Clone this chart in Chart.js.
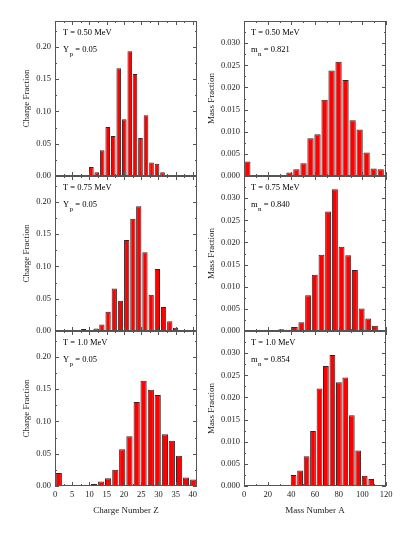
<!DOCTYPE html>
<html>
<head>
<meta charset="utf-8">
<script src="https://cdn.jsdelivr.net/npm/chart.js@4"></script>
<style>
  body { margin: 0; background: #fff; width: 415px; height: 536px; position: relative; overflow: hidden; }
  canvas { position: absolute; }
</style>
</head>
<body>
<canvas id="p1"></canvas>
<canvas id="p2"></canvas>
<canvas id="p3"></canvas>
<canvas id="p4"></canvas>
<canvas id="p5"></canvas>
<canvas id="p6"></canvas>
<script>
// charge distributions (left column)
const zT050 = [7.4, 9.0, 10.55, 12.1, 13.7, 15.3, 16.9, 18.5, 20.1, 21.7, 23.2, 24.8, 26.4, 28.0, 29.6, 31.2];
const cfT050 = [0.001, 0.001, 0.014, 0.006, 0.040, 0.076, 0.062, 0.167, 0.088, 0.193, 0.158, 0.059, 0.094, 0.021, 0.019, 0.006];
const zT075 = [8.3, 10.1, 11.9, 13.6, 15.4, 17.2, 19.0, 20.8, 22.6, 24.3, 26.1, 27.9, 29.7, 31.5, 33.3, 35.0];
const cfT075 = [0.003, 0, 0.004, 0.010, 0.030, 0.066, 0.047, 0.141, 0.174, 0.193, 0.122, 0.056, 0.096, 0.037, 0.015, 0.005];
const zT100 = [1.1, 3.1, 5.2, 7.2, 9.3, 11.3, 13.4, 15.4, 17.5, 19.5, 21.6, 23.7, 25.7, 27.8, 29.8, 31.9, 33.9, 36.0, 38.0, 40.1];
const cfT100 = [0.020, 0.001, 0, 0, 0.002, 0.003, 0.007, 0.012, 0.025, 0.057, 0.077, 0.130, 0.163, 0.149, 0.141, 0.080, 0.070, 0.047, 0.013, 0.010];

// mass distributions (right column)
const aT050 = [2.8, 8.8, 14.7, 20.6, 26.6, 32.5, 38.4, 44.3, 50.3, 56.2, 62.1, 68.1, 74.0, 79.9, 85.8, 91.8, 97.7, 103.6, 109.5, 115.5];
const mfT050 = [0.0033, 0.0002, 0, 0, 0.0001, 0.0002, 0.0008, 0.0015, 0.0029, 0.0085, 0.0094, 0.0172, 0.0238, 0.0258, 0.0217, 0.0126, 0.0105, 0.0053, 0.0017, 0.0015];
const aT075 = [25.9, 31.6, 37.2, 42.9, 48.5, 54.2, 59.8, 65.5, 71.1, 76.8, 82.4, 88.1, 93.7, 99.4, 105.0, 110.6];
const mfT075 = [0.0001, 0.0004, 0.0003, 0.0009, 0.0020, 0.0081, 0.0127, 0.0172, 0.0270, 0.0320, 0.0190, 0.0171, 0.0138, 0.0051, 0.0028, 0.0012];
const aT100 = [31.0, 36.5, 41.9, 47.4, 52.9, 58.3, 63.8, 69.2, 74.7, 80.2, 85.6, 91.1, 96.5, 102.0, 107.5];
const mfT100 = [0.0001, 0.0002, 0.0025, 0.0035, 0.0067, 0.0124, 0.0220, 0.0271, 0.0296, 0.0234, 0.0245, 0.0160, 0.0080, 0.0023, 0.0016];

// tick labels
const zTicks = [0, 5, 10, 15, 20, 25, 30, 35, 40];
const aTicks = [0, 20, 40, 60, 80, 100, 120];
const chargeTicks = [0, 0.05, 0.10, 0.15, 0.20];
const massTicks = [0, 0.005, 0.010, 0.015, 0.020, 0.025, 0.030];

const SERIF = "'Liberation Serif', 'Times New Roman', serif";

// box around the plot with inward ticks on all four sides
const frame = {
  id: 'frame',
  afterDatasetsDraw(chart, args, o) {
    const { ctx, chartArea: a, scales: { x, y } } = chart;
    ctx.save();
    ctx.strokeStyle = '#555';
    ctx.lineWidth = 1;
    ctx.beginPath();
    const step = (s, minor, major, horiz) => {
      for (let v = s.min; v <= s.max + 1e-9; v += minor) {
        const isMaj = Math.abs(v / major - Math.round(v / major)) < 1e-6;
        const len = isMaj ? 4 : 2;
        const p = Math.round(s.getPixelForValue(v)) + 0.5;
        if (horiz) {
          ctx.moveTo(p, a.bottom); ctx.lineTo(p, a.bottom - len);
          ctx.moveTo(p, a.top); ctx.lineTo(p, a.top + len);
        } else {
          ctx.moveTo(a.left, p); ctx.lineTo(a.left + len, p);
          ctx.moveTo(a.right, p); ctx.lineTo(a.right - len, p);
        }
      }
    };
    step(x, o.xMinor, o.xMajor, true);
    step(y, o.yMinor, o.yMajor, false);
    ctx.stroke();
    ctx.strokeRect(Math.round(a.left) + 0.5, Math.round(a.top) + 0.5,
      Math.round(a.right - a.left) - 1, Math.round(a.bottom - a.top) - 1);
    ctx.restore();
  }
};

// "T = ..." and "Y_p = ..." labels in the upper left corner
const notes = {
  id: 'notes',
  afterDraw(chart, args, o) {
    const { ctx, chartArea: a } = chart;
    ctx.save();
    ctx.fillStyle = '#000';
    ctx.textBaseline = 'middle';
    ctx.font = '8.5px ' + SERIF;
    const x0 = a.left + o.dx;
    ctx.fillText(o.temp, x0, a.top + 12);
    const y2 = a.top + 29;
    ctx.fillText(o.sym, x0, y2);
    let w = ctx.measureText(o.sym).width + 0.5;
    ctx.font = '7px ' + SERIF;
    ctx.fillText(o.sub, x0 + w, y2 + 4);
    w += ctx.measureText(o.sub).width;
    ctx.font = '8.5px ' + SERIF;
    ctx.fillText(o.val, x0 + w, y2);
    ctx.restore();
  }
};

function panel(id, cfg) {
  const cv = document.getElementById(id);
  cv.width = cfg.w; cv.height = cfg.h;
  cv.style.left = cfg.left + 'px';
  cv.style.top = cfg.top + 'px';
  const pts = cfg.xs.map((v, i) => ({ x: v, y: cfg.ys[i] }));
  new Chart(cv, {
    type: 'bar',
    data: {
      datasets: [{
        data: pts,
        backgroundColor: '#ff0000',
        borderColor: '#402020',
        borderWidth: 1,
        barPercentage: 0.9,
        categoryPercentage: 1.0
      }]
    },
    options: {
      responsive: false,
      animation: false,
      events: [],
      layout: { padding: { top: 10, left: 0, right: cfg.padRight, bottom: 0 } },
      plugins: {
        legend: { display: false },
        tooltip: { enabled: false },
        frame: cfg.frame,
        notes: cfg.notes
      },
      scales: {
        x: {
          type: 'linear',
          offset: false,
          min: cfg.xMin, max: cfg.xMax,
          afterBuildTicks: s => { s.ticks = cfg.xTicks.map(v => ({ value: v })); },
          afterFit: s => { s.height = cfg.bottom ? 40 : 10; },
          grid: { display: false, drawTicks: false },
          border: { display: false },
          ticks: {
            display: cfg.bottom,
            padding: 4,
            color: '#222',
            font: { family: SERIF, size: 8.5 },
            maxRotation: 0,
            autoSkip: false
          },
          title: {
            display: cfg.bottom,
            text: cfg.xTitle,
            color: '#222',
            font: { family: SERIF, size: 9 },
            padding: { top: 0, bottom: 10 }
          }
        },
        y: {
          min: 0, max: cfg.yMax,
          afterBuildTicks: s => { s.ticks = cfg.yTicks.map(v => ({ value: v })); },
          afterFit: s => { s.width = cfg.yWidth; },
          grid: { display: false, drawTicks: false },
          border: { display: false },
          ticks: {
            padding: 4,
            color: '#222',
            font: { family: SERIF, size: 8.5 },
            callback: v => v.toFixed(cfg.dec)
          },
          title: {
            display: true,
            text: cfg.yTitle,
            color: '#222',
            font: { family: SERIF, size: 9 },
            padding: { top: cfg.titlePad, bottom: 0 }
          }
        }
      }
    },
    plugins: [frame, notes]
  });
}

const rowTop = [11, 166, 321];
const left = {
  left: 0, w: 205, padRight: 8, yWidth: 55, titlePad: 21,
  xMin: 0, xMax: 41.2, xTicks: zTicks, yMax: 0.24, yTicks: chargeTicks, dec: 2,
  xTitle: 'Charge Number Z', yTitle: 'Charge Fraction',
  frame: { xMajor: 5, xMinor: 2.5, yMajor: 0.05, yMinor: 0.025 }
};
const right = {
  left: 200, w: 200, padRight: 14, yWidth: 44, titlePad: 6,
  xMin: 0, xMax: 120, xTicks: aTicks, yMax: 0.035, yTicks: massTicks, dec: 3,
  xTitle: 'Mass Number A', yTitle: 'Mass Fraction',
  frame: { xMajor: 20, xMinor: 10, yMajor: 0.005, yMinor: 0.0025 }
};

const temps = ['T = 0.50 MeV', 'T = 0.75 MeV', 'T = 1.0 MeV'];
const mn = [' = 0.821', ' = 0.840', ' = 0.854'];
const zs = [zT050, zT075, zT100], cfs = [cfT050, cfT075, cfT100];
const as = [aT050, aT075, aT100], mfs = [mfT050, mfT075, mfT100];

for (let r = 0; r < 3; r++) {
  const bottom = r === 2;
  const h = bottom ? 205 : 175;
  panel('p' + (r + 1), Object.assign({}, left, {
    top: rowTop[r], h, bottom, xs: zs[r], ys: cfs[r],
    notes: { dx: 8, temp: temps[r], sym: 'Y', sub: 'p', val: ' = 0.05' }
  }));
  panel('p' + (r + 4), Object.assign({}, right, {
    top: rowTop[r], h, bottom, xs: as[r], ys: mfs[r],
    notes: { dx: 7, temp: temps[r], sym: 'm', sub: 'n', val: mn[r] }
  }));
}
</script>
</body>
</html>
